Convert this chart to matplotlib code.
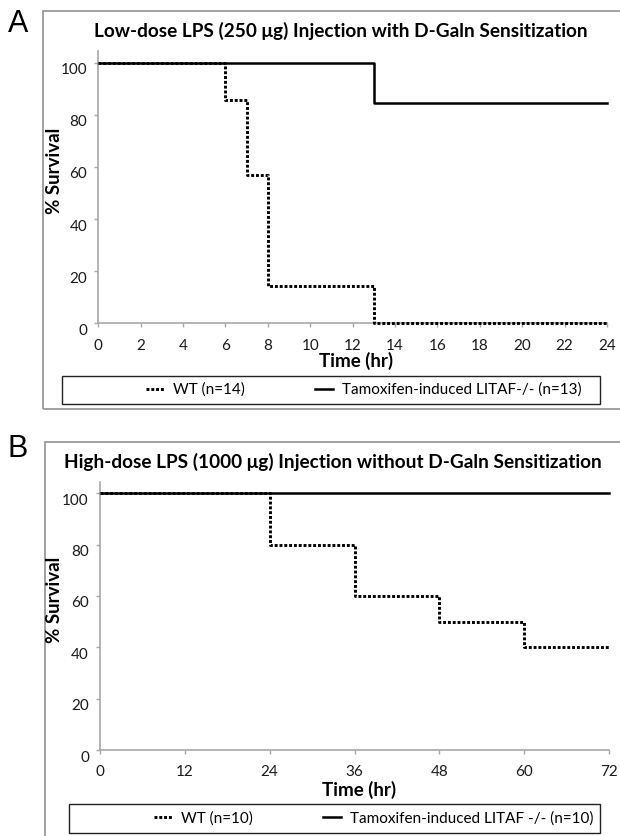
import matplotlib
matplotlib.use("Agg")
import matplotlib.pyplot as plt
from matplotlib.lines import Line2D
from matplotlib.patches import Rectangle
from matplotlib.transforms import ScaledTranslation

plt.rcParams["font.family"] = ["Lato", "DejaVu Sans"]

# panel A: low-dose LPS with D-Galn, hours
a_wt_time = [0, 6, 7, 8, 13, 24]
a_wt_surv = [100, 85.7, 57.1, 14.3, 0, 0]
a_ko_time = [0, 13, 24]
a_ko_surv = [100, 84.6, 84.6]
a_xticks = list(range(0, 25, 2))
a_title = "Low-dose LPS (250 μg) Injection with D-Galn Sensitization"
a_labels = ["WT (n=14)", "Tamoxifen-induced LITAF-/- (n=13)"]

# panel B: high-dose LPS without D-Galn, hours
b_wt_time = [0, 24, 36, 48, 60, 72]
b_wt_surv = [100, 80, 60, 50, 40, 40]
b_ko_time = [0, 72]
b_ko_surv = [100, 100]
b_xticks = list(range(0, 73, 12))
b_title = "High-dose LPS (1000 μg) Injection without D-Galn Sensitization"
b_labels = ["WT (n=10)", "Tamoxifen-induced LITAF -/- (n=10)"]

yticks = [0, 20, 40, 60, 80, 100]

W, H = 620, 836
DPI = 100
SPINE = "#a8a8a8"
BOXC = "#9a9a9a"
DOTS = (0, (1, 0.65))


def fx(px):
    return px / W


def fy(py):
    return 1 - py / H


fig = plt.figure(figsize=(W / DPI, H / DPI), dpi=DPI)


def panel(letter, letter_y, box, ax_px, title, title_xy, xlab_xy, ylab_xy,
          wt, ko, xticks, labels, leg_box, leg_x):
    # outer grey frame, runs off the right edge like the original scan
    bx0, by0, bx1, by1 = box
    fig.patches.append(Rectangle((fx(bx0), fy(by1)), fx(bx1 - bx0), (by1 - by0) / H,
                                 transform=fig.transFigure, fill=False,
                                 edgecolor=BOXC, linewidth=1.3, clip_on=False))
    fig.text(fx(8), fy(letter_y), letter, fontsize=22, family="Liberation Sans",
             va="center", ha="left")

    l, t, r, b = ax_px
    ax = fig.add_axes([fx(l), fy(b), fx(r - l), (b - t) / H])
    ax.step(wt[0], wt[1], where="post", color="black", linewidth=2.1,
            linestyle=DOTS, dash_capstyle="butt", zorder=3, label=labels[0],
            clip_on=False)
    ax.step(ko[0], ko[1], where="post", color="black", linewidth=1.8,
            zorder=2, label=labels[1], clip_on=False)

    ax.set_xlim(xticks[0], xticks[-1])
    ax.set_ylim(0, 104.5)
    ax.set_xticks(xticks)
    ax.set_yticks(yticks)
    for side in ("top", "right"):
        ax.spines[side].set_visible(False)
    for side in ("left", "bottom"):
        ax.spines[side].set_color(SPINE)
        ax.spines[side].set_linewidth(1.2)
    ax.tick_params(colors=SPINE, labelcolor="#1a1a1a", length=3, width=1.0,
                   labelsize=11)
    ax.tick_params(axis="x", pad=8)
    ax.tick_params(axis="y", pad=5)
    # Excel-style y labels sit a little below their ticks
    shift = ScaledTranslation(0, -6 / DPI, fig.dpi_scale_trans)
    for lab in ax.get_yticklabels():
        lab.set_transform(lab.get_transform() + shift)

    fig.text(fx(title_xy[0]), fy(title_xy[1]), title, fontsize=13.7,
             fontweight="bold", ha="center", va="center")
    fig.text(fx(xlab_xy[0]), fy(xlab_xy[1]), "Time (hr)", fontsize=13.5,
             fontweight="bold", ha="center", va="center")
    fig.text(fx(ylab_xy[0]), fy(ylab_xy[1]), "% Survival", fontsize=13.5,
             fontweight="bold", ha="center", va="center", rotation=90)

    lx0, ly0, lx1, ly1 = leg_box
    fig.patches.append(Rectangle((fx(lx0), fy(ly1)), fx(lx1 - lx0), (ly1 - ly0) / H,
                                 transform=fig.transFigure, fill=False,
                                 edgecolor="#222222", linewidth=1.0, clip_on=False))
    handles = [Line2D([], [], color="black", linewidth=2.1, linestyle=DOTS,
                      dash_capstyle="butt"),
               Line2D([], [], color="black", linewidth=1.8)]
    fig.legend(handles, labels, loc="center left",
               bbox_to_anchor=(fx(leg_x), fy((ly0 + ly1) / 2)),
               ncol=2, frameon=False, fontsize=11, handlelength=1.2,
               handletextpad=0.55, columnspacing=4.6, borderpad=0, borderaxespad=0)
    return ax


panel("A", 24, (43, 11, 630, 409), (98.3, 51, 607, 323.3), a_title, (341, 31),
      (356, 361), (55, 171), (a_wt_time, a_wt_surv), (a_ko_time, a_ko_surv),
      a_xticks, a_labels, (62, 376, 600, 404), 146)
panel("B", 449, (45, 442, 630, 850), (100, 481.7, 609, 750), b_title, (333, 462),
      (359, 790), (55, 600), (b_wt_time, b_wt_surv), (b_ko_time, b_ko_surv),
      b_xticks, b_labels, (69, 804, 600, 833), 154)

fig.savefig("out.png", dpi=DPI)
